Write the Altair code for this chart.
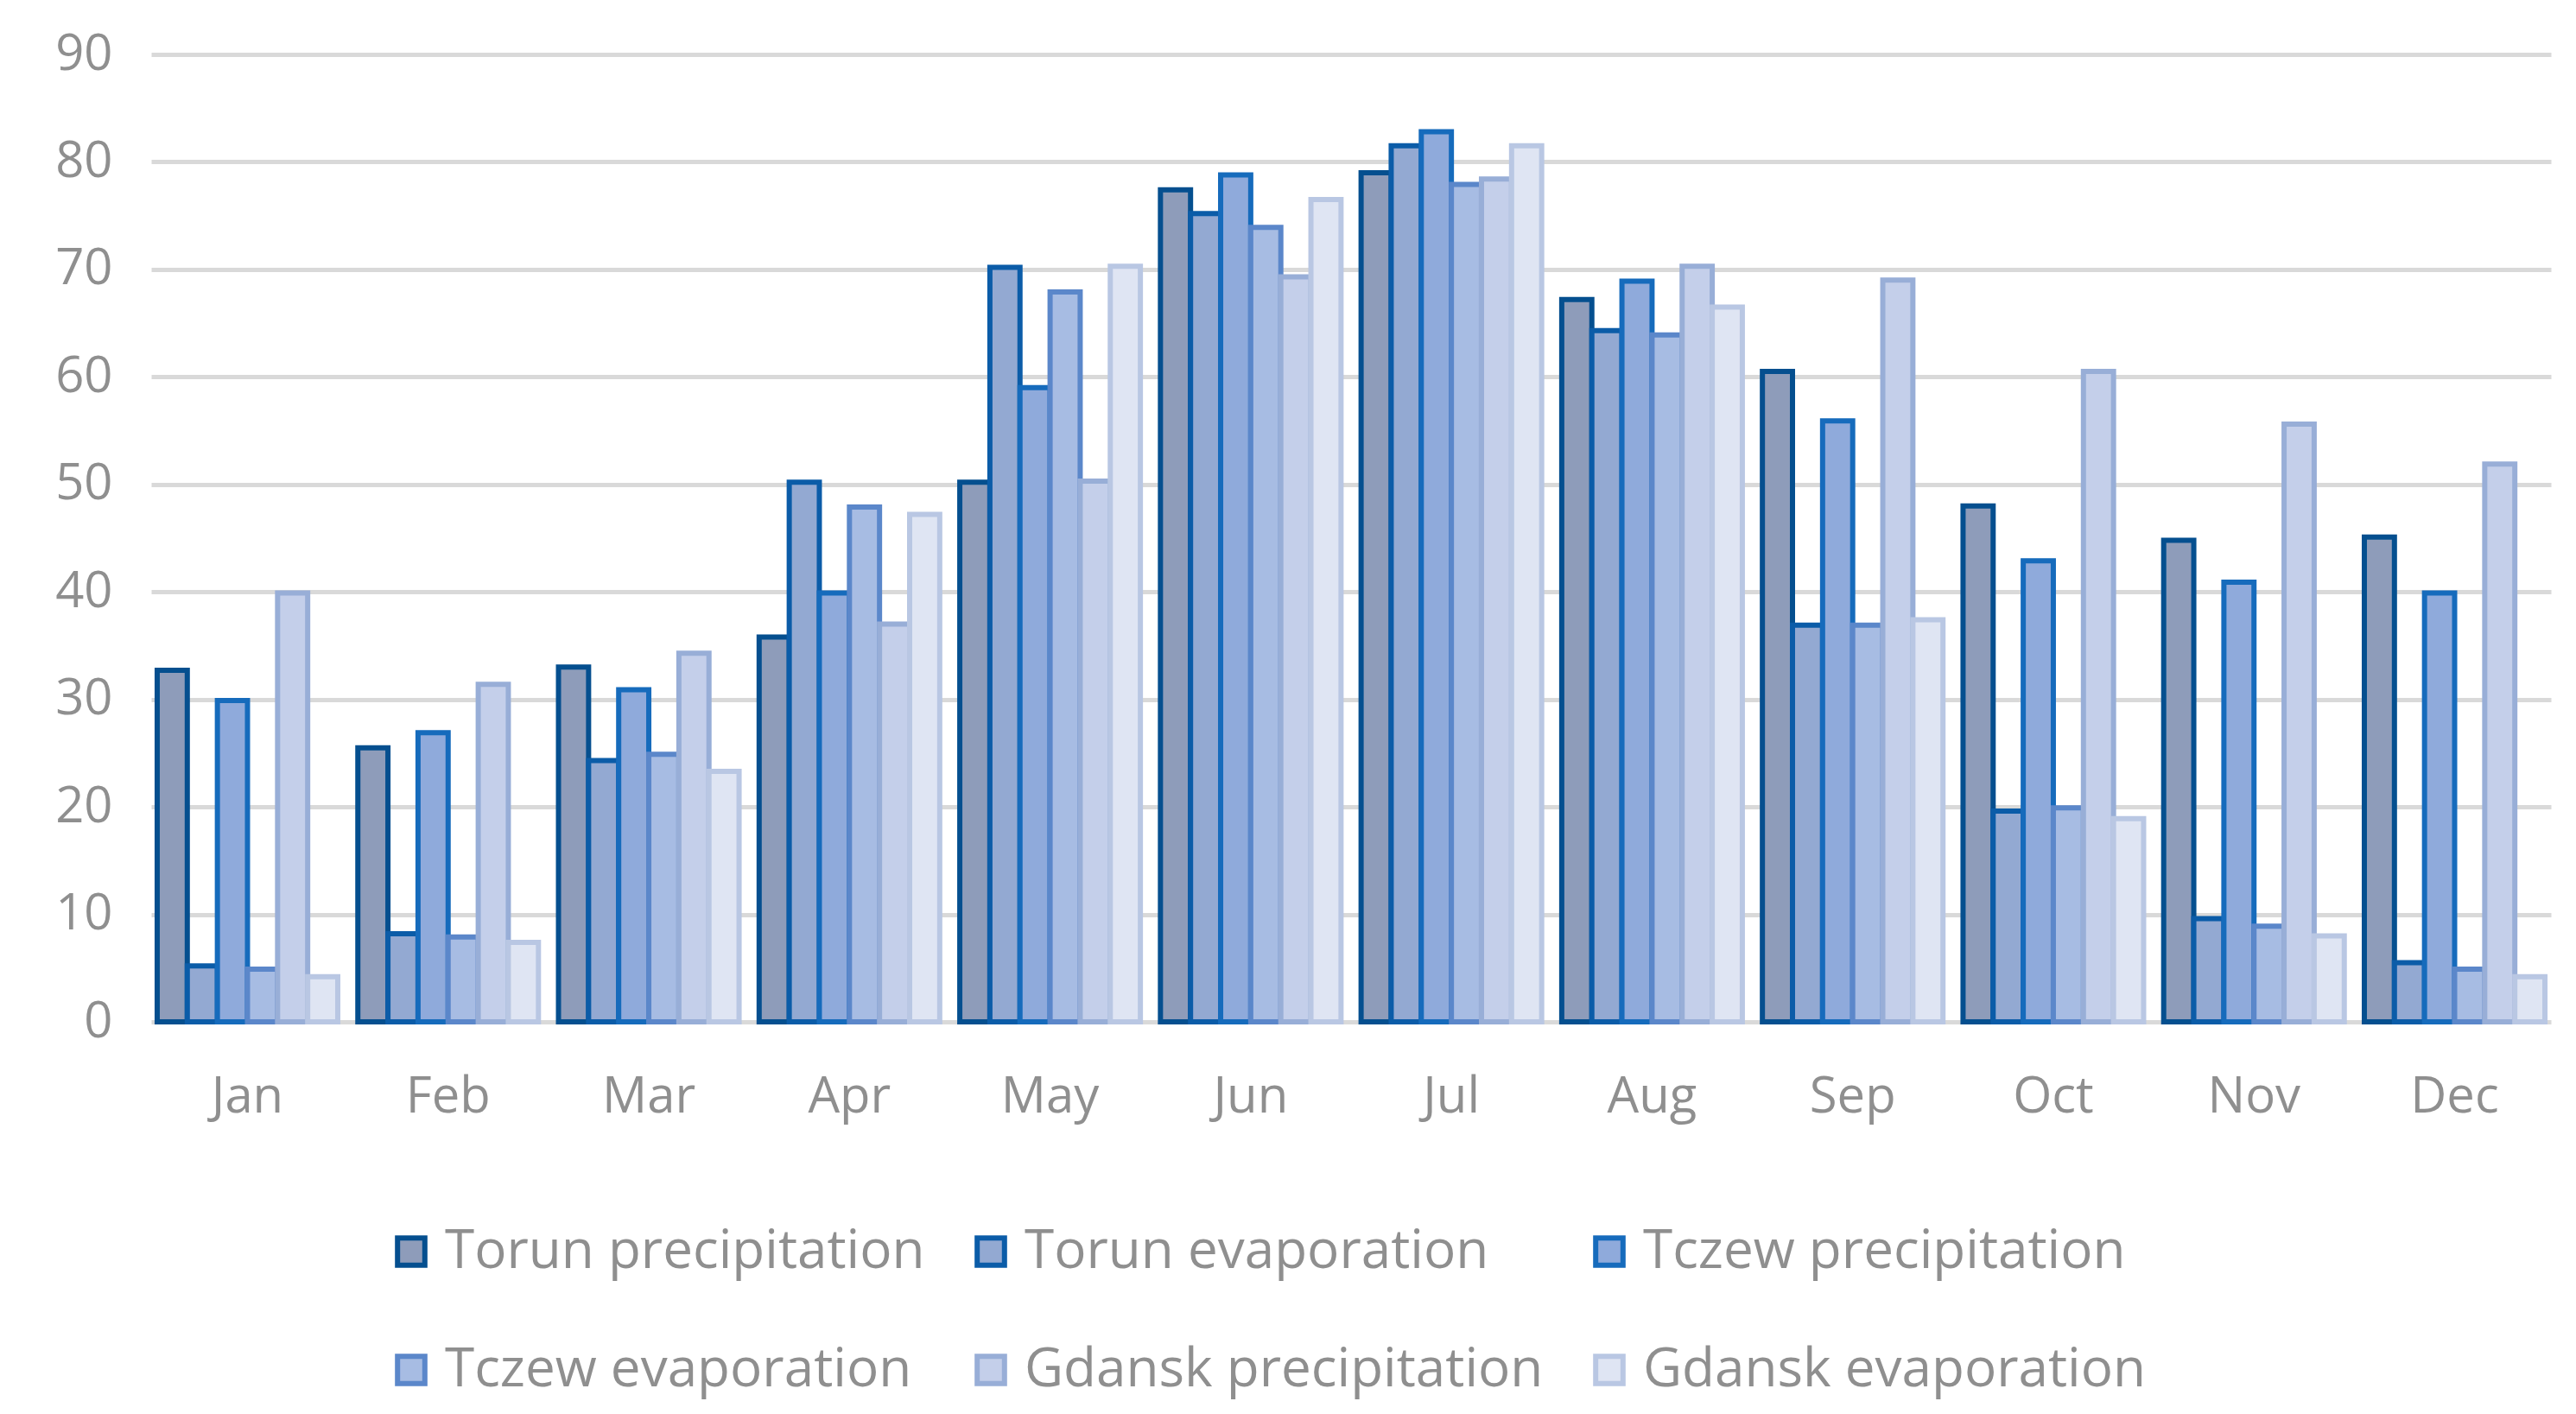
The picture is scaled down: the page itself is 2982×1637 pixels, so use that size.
import altair as alt
import pandas as pd

months = ["Jan", "Feb", "Mar", "Apr", "May", "Jun", "Jul", "Aug", "Sep", "Oct", "Nov", "Dec"]
series = ["Torun precipitation", "Torun evaporation", "Tczew precipitation",
          "Tczew evaporation", "Gdansk precipitation", "Gdansk evaporation"]

torun_prec = [32.7, 25.5, 33.0, 35.8, 50.2, 77.4, 79.0, 67.2, 60.5, 48.0, 44.8, 45.1]
torun_evap = [5.2, 8.2, 24.3, 50.2, 70.2, 75.2, 81.5, 64.3, 36.9, 19.6, 9.6, 5.5]
tczew_prec = [29.9, 26.9, 30.9, 39.9, 59.0, 78.8, 82.8, 68.9, 55.9, 42.9, 40.9, 39.9]
tczew_evap = [4.9, 7.9, 24.9, 47.9, 67.9, 73.9, 77.9, 63.9, 36.9, 19.9, 8.9, 4.9]
gdansk_prec = [39.9, 31.4, 34.3, 37.0, 50.3, 69.3, 78.4, 70.3, 69.0, 60.5, 55.6, 51.9]
gdansk_evap = [4.2, 7.4, 23.3, 47.2, 70.3, 76.5, 81.5, 66.5, 37.4, 18.9, 8.0, 4.2]

fills = ["#8E9CBA", "#93A9D2", "#8FAADB", "#A7BCE3", "#C4CFEA", "#DFE5F3"]
strokes = ["#054F8F", "#0B5CA8", "#166BBC", "#5B87CA", "#98AED7", "#B9C7E3"]

rows = []
for name, vals in zip(series, [torun_prec, torun_evap, tczew_prec, tczew_evap, gdansk_prec, gdansk_evap]):
    for m, v in zip(months, vals):
        rows.append({"month": m, "series": name, "value": v})
df = pd.DataFrame(rows)

grey = "#8f8f8f"
font = "Open Sans"

legend = alt.Legend(title=None, orient="none", legendX=270, legendY=1355,
                    direction="horizontal", columns=3, symbolType="square",
                    symbolSize=1000, symbolStrokeWidth=6, labelFontSize=62,
                    labelColor=grey, labelFont=font, labelLimit=1000,
                    columnPadding=45, rowPadding=75, labelOffset=8)

chart = alt.Chart(df).mark_bar(strokeWidth=6).encode(
    x=alt.X("month:N", sort=months, title=None,
            scale=alt.Scale(paddingInner=0.1, paddingOuter=0.03),
            axis=alt.Axis(labelAngle=0, labelFontSize=58, labelColor=grey, labelPadding=58,
                          ticks=False, domain=False, labelFont=font)),
    xOffset=alt.XOffset("series:N", sort=series, scale=alt.Scale(paddingInner=0.0)),
    y=alt.Y("value:Q", title=None,
            scale=alt.Scale(domain=[0, 90]),
            axis=alt.Axis(values=list(range(0, 91, 10)), labelFontSize=58, labelColor=grey,
                          labelPadding=45, ticks=False, domain=False, labelFont=font,
                          gridColor="#d9d9d9", gridWidth=5)),
    fill=alt.Fill("series:N", sort=series, scale=alt.Scale(domain=series, range=fills),
                  legend=legend),
    stroke=alt.Stroke("series:N", sort=series, scale=alt.Scale(domain=series, range=strokes),
                      legend=legend),
).properties(
    width=2778, height=1120,
    autosize=alt.AutoSizeParams(type="none"),
    padding={"left": 167, "top": 55, "right": 21, "bottom": 440},
).configure_view(stroke=None)

chart.save("out.html", embed_options={"renderer": "svg", "actions": False})
